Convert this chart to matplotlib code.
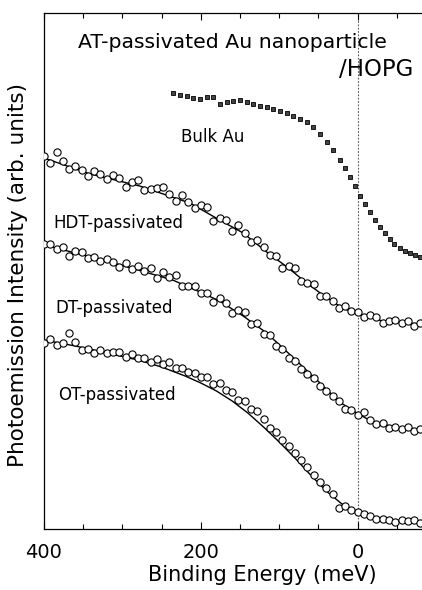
import numpy as np
import matplotlib
matplotlib.use("Agg")
import matplotlib.pyplot as plt
from matplotlib.ticker import FixedLocator

plt.rcParams["font.family"] = ["DejaVu Sans"]

# Binding energy grid of the circles (meV)
energy = [400, 392, 384, 376, 368, 360, 352, 344, 336, 328, 320, 312, 304, 296, 288,
          280, 272, 264, 256, 248, 240, 232, 224, 216, 208, 200, 192, 184, 176, 168,
          160, 152, 144, 136, 128, 120, 112, 104, 96, 88, 80, 72, 64, 56, 48,
          40, 32, 24, 16, 8, 0, -8, -16, -24, -32, -40, -48, -56, -64, -72, -80]

hdt_data = [37.3, 36.6, 37.7, 36.8, 36.0, 36.3, 35.9, 35.3, 35.8, 35.5, 35.0, 35.4, 35.1, 34.2, 34.7,
            34.9, 33.9, 34.0, 34.1, 34.2, 33.5, 32.8, 33.4, 32.7, 32.1, 32.4, 32.2, 30.8, 31.1, 30.9,
            29.8, 30.4, 29.6, 28.7, 28.9, 28.2, 27.4, 27.3, 26.1, 26.3, 26.1, 24.8, 24.6, 24.5, 23.3,
            23.3, 22.8, 22.1, 22.3, 21.8, 21.7, 21.2, 21.4, 21.2, 20.6, 20.8, 20.9, 20.6, 20.8, 20.3, 20.6]

dt_data = [28.5, 28.5, 28.0, 28.2, 27.3, 27.8, 27.7, 27.1, 27.2, 26.8, 27.0, 26.7, 26.2, 26.6, 26.0,
           26.3, 25.8, 26.1, 25.1, 25.7, 25.2, 25.4, 24.3, 24.3, 24.3, 23.6, 23.6, 22.7, 23.1, 22.6,
           21.6, 21.9, 21.7, 20.5, 20.6, 19.5, 19.4, 18.3, 18.0, 17.1, 16.8, 16.0, 15.5, 15.1, 14.3,
           13.8, 13.3, 12.8, 12.0, 11.9, 11.4, 11.7, 10.9, 10.5, 10.6, 10.15, 10.25, 10.0, 10.2, 9.85, 10.0]

ot_data = [18.6, 19.0, 18.4, 18.6, 19.6, 18.7, 17.9, 18.05, 17.6, 17.9, 17.65, 17.7, 17.7, 17.25, 17.55,
           17.1, 17.15, 16.7, 17.0, 16.5, 16.7, 16.1, 16.1, 15.75, 15.65, 15.25, 15.2, 14.55, 14.6, 13.9,
           13.7, 12.9, 12.8, 12.0, 11.8, 11.0, 10.1, 9.7, 8.9, 8.3, 7.6, 6.9, 6.2, 5.4, 4.7,
           4.1, 3.5, 2.1, 2.3, 1.95, 1.7, 1.5, 1.3, 1.05, 1.0, 0.95, 0.7, 0.95, 0.8, 0.95, 0.6]

# fitted curves (knots)
hdt_fit_e = [400, 341, 278, 214, 176, 146, 116, 90, 65, 39, 19, -3, -37, -82]
hdt_fit = [37.1, 35.5, 34.3, 32.6, 30.9, 29.6, 27.7, 26.2, 24.6, 23.1, 22.1, 21.4, 20.7, 20.5]
dt_fit_e = [400, 320, 236, 201, 176, 146, 116, 83, 52, 23, 1, -19, -54, -82]
dt_fit = [28.4, 26.8, 24.9, 23.7, 22.8, 21.3, 19.6, 17.2, 14.9, 12.7, 11.6, 10.7, 10.1, 9.9]
ot_fit_e = [400, 360, 320, 280, 250, 220, 200, 180, 160, 140, 120, 100, 80, 60, 40, 20, 0,
            -20, -40, -60, -82]
ot_fit = [18.9, 18.3, 17.6, 16.9, 16.2, 15.3, 14.6, 13.8, 12.8, 11.6, 10.2, 8.7, 7.1, 5.4, 3.8,
          2.5, 1.6, 1.1, 0.85, 0.7, 0.6]

# bulk Au reference spectrum
bulk_e = [236, 227, 218, 210, 201, 192, 185, 176, 167, 159, 150, 141, 134, 125, 116, 108,
          99, 90, 83, 74, 65, 57, 48, 39, 32, 23, 16, 10, 3, -3, -9, -16, -22, -28,
          -35, -41, -47, -54, -60, -67, -73, -80]
bulk = [43.6, 43.4, 43.3, 43.1, 43.0, 43.2, 43.2, 42.5, 42.7, 42.8, 42.9, 42.7, 42.5, 42.3, 42.2, 42.0,
        41.8, 41.6, 41.3, 41.0, 40.7, 40.2, 39.5, 38.7, 37.9, 36.9, 36.1, 35.2, 34.3, 33.3, 32.5, 31.7,
        30.9, 30.2, 29.6, 29.0, 28.5, 28.1, 27.8, 27.6, 27.4, 27.2]

fig = plt.figure(figsize=(4.22, 5.90), dpi=100)
ax = fig.add_axes([44 / 422, 61 / 590, 378.7 / 422, 516 / 590])

ax.axvline(0, color="#555555", lw=0.8, ls=(0, (1.5, 1.5)), zorder=1)

for e, y in [(hdt_fit_e, hdt_fit), (dt_fit_e, dt_fit), (ot_fit_e, ot_fit)]:
    ax.plot(e, y, color="black", lw=1.0, zorder=2)
for y in [hdt_data, dt_data, ot_data]:
    ax.plot(energy, y, ls="none", marker="o", ms=5.2, mfc="white", mec="black",
            mew=0.8, zorder=3)
ax.plot(bulk_e, bulk, ls="none", marker="s", ms=3.3, mfc="#444444", mec="black",
        mew=0.6, zorder=3)

ax.set_xlim(400, -83)
ax.set_ylim(0, 51.6)
ax.set_yticks([])
ax.xaxis.set_major_locator(FixedLocator([400, 200, 0]))
ax.xaxis.set_minor_locator(FixedLocator([350, 300, 250, 150, 100, 50, -50]))
ax.tick_params(axis="x", which="both", direction="in", top=True, labelsize=14, pad=10)
ax.tick_params(axis="x", which="major", length=5, width=0.8)
ax.tick_params(axis="x", which="minor", length=3.5, width=0.8)
for s in ax.spines.values():
    s.set_linewidth(0.9)

ax.set_xlabel("Binding Energy (meV)", fontsize=15)
ax.xaxis.set_label_coords(218 / 378.7, -0.07)
ax.set_ylabel("Photoemission Intensity (arb. units)", fontsize=15.5)
ax.yaxis.set_label_coords(-0.042, 0.492)

ax.text(160, 48.7, "AT-passivated Au nanoparticle", fontsize=14.7, ha="center", va="center")
ax.text(-70.5, 45.9, "/HOPG", fontsize=16.5, ha="right", va="center")
ax.text(184.6, 39.2, "Bulk Au", fontsize=12, ha="center", va="center")
ax.text(388.6, 30.6, "HDT-passivated", fontsize=12, ha="left", va="center")
ax.text(386, 22.1, "DT-passivated", fontsize=12, ha="left", va="center")
ax.text(382, 13.4, "OT-passivated", fontsize=12, ha="left", va="center")

fig.savefig("out.png", dpi=100)
